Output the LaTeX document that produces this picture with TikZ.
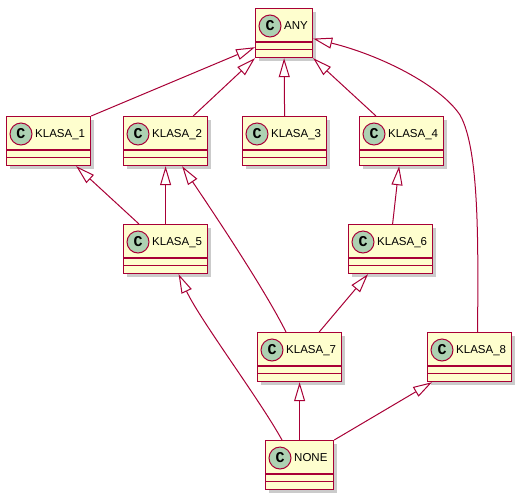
\documentclass[tikz,border=0pt]{standalone}
\usepackage{fontspec}
\setmainfont{Liberation Sans}
\newfontfamily\badgefont{Liberation Mono}
\usetikzlibrary{arrows.meta, calc, shadows}
\definecolor{cred}{HTML}{A80036}
\definecolor{cfill}{HTML}{FEFECE}
\definecolor{cgreen}{HTML}{ADD1B2}
\tikzset{
  every picture/.style={font=\fontsize{11.5}{13}\selectfont},
  cls/.style={rectangle, draw=cred, fill=cfill, line width=1.2pt, inner sep=0pt, minimum height=49pt, anchor=north west,
    drop shadow={shadow xshift=3.5pt, shadow yshift=-3.5pt, fill=black!45, opacity=0.45}},
  sepline/.style={draw=cred, line width=1.2pt},
  badge/.style={circle, draw=cred, fill=cgreen, line width=1pt, minimum size=22pt, inner sep=0pt,
    font=\badgefont\bfseries\fontsize{15}{15}\selectfont},
  cname/.style={anchor=base west, inner sep=0pt},
  ext/.style={draw=cred, line width=1pt, -{Triangle[open, length=19pt, width=11pt, fill=white]}},
}

\begin{document}
\begin{tikzpicture}[x=1pt, y=-1pt]
  \useasboundingbox (0,0) rectangle (522,499);
  % one class: \umlclass{name}{left}{top}{width}{title}
  \newcommand{\umlclass}[5]{%
    \node[cls, minimum width=#4pt] (#1) at (#2,#3) {};
    \draw[sepline] ($(#1.north west)+(0,34)$) -- ($(#1.north east)+(0,34)$);
    \draw[sepline] ($(#1.north west)+(0,41.5)$) -- ($(#1.north east)+(0,41.5)$);
    \node[badge] (#1-c) at ($(#1.north west)+(15,18)$) {C};
    \node[cname] (#1-t) at ($(#1.north west)+(29,21.5)$) {#5};}
  \umlclass{any}{255}{8}{57}{ANY}
  \umlclass{k1}{6}{116}{84}{KLASA\_1}
  \umlclass{k2}{123}{116}{84}{KLASA\_2}
  \umlclass{k3}{242}{116}{84}{KLASA\_3}
  \umlclass{k4}{359}{116}{84}{KLASA\_4}
  \umlclass{k5}{123}{224}{84}{KLASA\_5}
  \umlclass{k6}{348}{224}{84}{KLASA\_6}
  \umlclass{k7}{257}{332}{84}{KLASA\_7}
  \umlclass{k8}{427}{332}{84}{KLASA\_8}
  \umlclass{none}{265}{440}{68}{NONE}

  \draw[ext] (k1.north east) -- ($(any.south west)+(0,-11)$);
  \draw[ext] ($(k2.north east)+(-15,0)$) -- (any.south west);
  \draw[ext] (k3.north) -- (any.south);
  \draw[ext] ($(k4.north west)+(17,0)$) -- (any.south east);
  \draw[ext] ($(k8.north)+(8,0)$) .. controls (478,250) and (480,150) .. (460,115)
    .. controls (440,85) and (380,55) .. ($(any.east)+(0,5.5)$);
  \draw[ext] ($(k5.north west)+(16,0)$) -- ($(k1.south east)+(-15,0)$);
  \draw[ext] (k5.north) -- (k2.south);
  \draw[ext] ($(k7.north west)+(29,0)$) .. controls (265,290) and (215,215) .. ($(k2.south)+(16.5,0)$);
  \draw[ext] ($(k6.north)+(2,0)$) -- ($(k4.south)+(-2.5,0)$);
  \draw[ext] ($(k7.north east)+(-23,0)$) -- ($(k6.south west)+(20,0)$);
  \draw[ext] ($(none.north west)+(17,0)$) .. controls (260,400) and (200,320) .. ($(k5.south)+(13,0)$);
  \draw[ext] (none.north) -- (k7.south);
  \draw[ext] (none.north east) -- ($(k8.south west)+(5,0)$);
\end{tikzpicture}
\end{document}
